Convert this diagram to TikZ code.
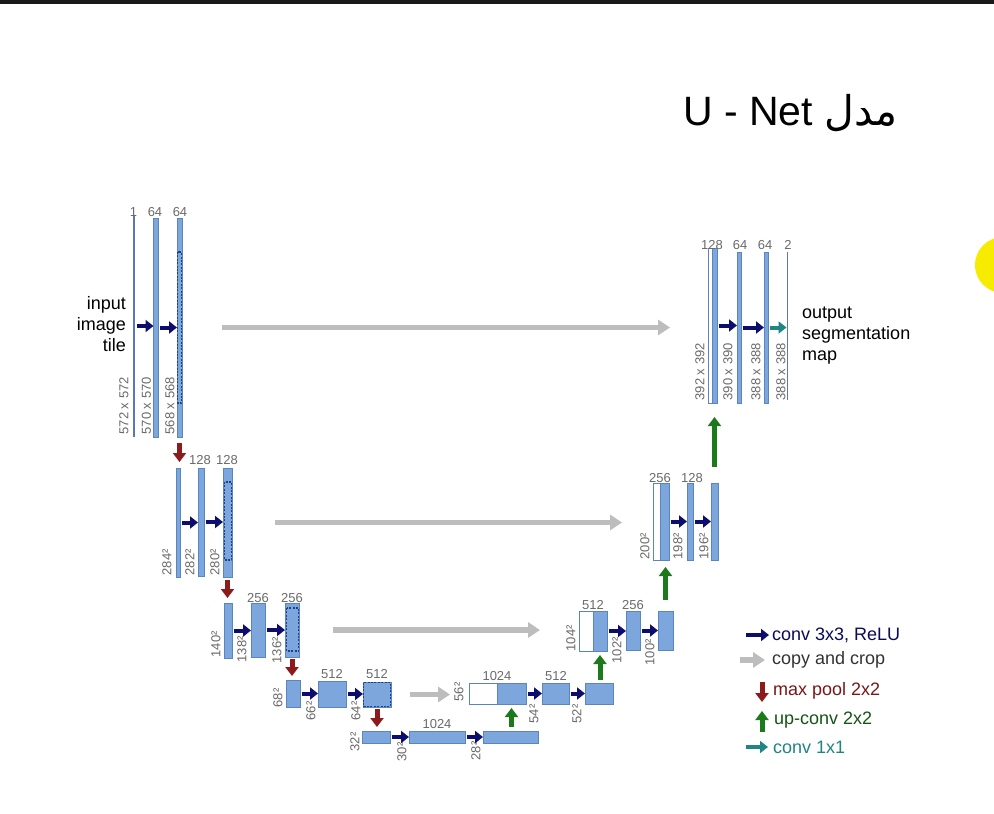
\documentclass[tikz,border=0pt]{standalone}
\usepackage{fontspec}
\setmainfont{Liberation Sans}
\newfontfamily\arabicfont[Script=Arabic]{DejaVu Sans}
\TeXXeTstate=1
\usetikzlibrary{arrows.meta}
\definecolor{barfill}{HTML}{7DA6DC}
\definecolor{barline}{HTML}{5A86C0}
\definecolor{thinblue}{HTML}{5A78B8}
\definecolor{dashnavy}{HTML}{1F3F8F}
\definecolor{convc}{HTML}{0D0D6E}
\definecolor{copyc}{HTML}{BDBDBD}
\definecolor{poolc}{HTML}{8E1B1B}
\definecolor{upc}{HTML}{1C7A1C}
\definecolor{tealc}{HTML}{1F8585}
\definecolor{labgray}{HTML}{6A6A6A}
\definecolor{sunny}{HTML}{F7EC00}
\tikzset{
  bar/.style={draw=barline, fill=barfill, line width=0.8pt, inner sep=0pt, outer sep=0pt, anchor=north west},
  wbox/.style={draw=barline, fill=white, line width=0.8pt, inner sep=0pt, outer sep=0pt, anchor=north west},
  thinbar/.style={fill=thinblue, inner sep=0pt, outer sep=0pt, anchor=north west},
  dashrect/.style={draw=dashnavy, line width=1.2pt, dash pattern=on 2pt off 1.4pt},
  convarrow/.style={draw=convc, line width=4pt, -{Triangle[length=8pt,width=12pt]}},
  tealarrow/.style={draw=tealc, line width=4pt, -{Triangle[length=8pt,width=12pt]}},
  copyarrow/.style={draw=copyc, line width=5.5pt, -{Triangle[length=12pt,width=15pt]}},
  poolarrow/.style={draw=poolc, line width=5pt, -{Triangle[length=9pt,width=13pt]}},
  uparrow/.style={draw=upc, line width=5pt, -{Triangle[length=9pt,width=13pt]}},
  toplab/.style={font=\fontsize{13}{13}\selectfont, text=labgray, inner sep=0pt, anchor=base},
  sidelab/.style={font=\fontsize{13}{13}\selectfont, text=labgray, inner sep=0.5pt, rotate=90, anchor=west},
  bigtext/.style={font=\fontsize{18}{21}\selectfont, inner sep=0pt},
  legtext/.style={font=\fontsize{18}{18}\selectfont, inner sep=0pt, anchor=west}
}
\begin{document}
\begin{tikzpicture}[x=1pt,y=-1pt]
\useasboundingbox (0,0) rectangle (994,814);
\clip (0,0) rectangle (994,814);
\fill[white] (0,0) rectangle (994,814);
\fill[black!90] (0,0) rectangle (994,4);
\fill[sunny] (1003,265) circle (28);

% title
\node[anchor=west, font=\fontsize{41}{41}\selectfont, inner sep=0pt] (title) at (683,113) {U - Net \arabicfont\beginR مدل\endR};

% ---------- level 1 left
\node[thinbar, minimum width=2pt, minimum height=222pt] (a1) at (133,215) {};
\node[bar, minimum width=5pt, minimum height=219pt] (a2) at (153.5,218) {};
\node[bar, minimum width=5pt, minimum height=219pt] (a3) at (177,218) {};
\draw[dashrect] (177.6,252) rectangle (181.4,403);
\node[toplab] at (133.5,216) {1};
\node[toplab] at (155,216) {64};
\node[toplab] at (180,216) {64};
\node[sidelab] at (124,435) {572 x 572};
\node[sidelab] at (146.5,435) {570 x 570};
\node[sidelab] at (170,435) {568 x 568};
\node[bigtext, anchor=east, align=right] (inp) at (126,324) {input\\image\\tile};

% ---------- level 2 left
\node[bar, minimum width=4.5pt, minimum height=109pt] (b1) at (176,468) {};
\node[bar, minimum width=6pt, minimum height=108pt] (b2) at (198,468) {};
\node[bar, minimum width=9pt, minimum height=109pt] (b3) at (223,468) {};
\draw[dashrect] (224.5,482) rectangle (231.5,560);
\node[toplab] at (200,464) {128};
\node[toplab] at (227,464) {128};
\node[sidelab] at (167,576) {284²};
\node[sidelab] at (190,576) {282²};
\node[sidelab] at (215,576) {280²};

% ---------- level 3 left
\node[bar, minimum width=8pt, minimum height=55pt] (c1) at (224,603) {};
\node[bar, minimum width=14pt, minimum height=54pt] (c2) at (251,603) {};
\node[bar, minimum width=14pt, minimum height=54pt] (c3) at (285,603) {};
\draw[dashrect] (286.5,608) rectangle (298.5,651);
\node[toplab] at (258,602) {256};
\node[toplab] at (292,602) {256};
\node[sidelab] at (216,658) {140²};
\node[sidelab] at (242,663) {138²};
\node[sidelab] at (277,664) {136²};

% ---------- level 4 left
\node[bar, minimum width=14pt, minimum height=27pt] (d1) at (286,680) {};
\node[bar, minimum width=28pt, minimum height=26pt] (d2) at (318,681) {};
\node[bar, minimum width=28pt, minimum height=25pt] (d3) at (363,682) {};
\draw[dashrect] (363.6,682.6) rectangle (390.4,706.4);
\node[toplab] at (332,678) {512};
\node[toplab] at (377,678) {512};
\node[sidelab] at (278,708) {68²};
\node[sidelab] at (311,721) {66²};
\node[sidelab] at (356,721) {64²};

% ---------- level 5
\node[bar, minimum width=28pt, minimum height=12pt] (e1) at (362,731) {};
\node[bar, minimum width=56pt, minimum height=12pt] (e2) at (409,731) {};
\node[bar, minimum width=55pt, minimum height=12pt] (e3) at (483,731) {};
\node[toplab] at (437,728) {1024};
\node[sidelab] at (355,752) {32²};
\node[sidelab] at (402,762) {30²};
\node[sidelab] at (476,761) {28²};

% ---------- level 4 right
\node[wbox, minimum width=28pt, minimum height=21pt] (f0) at (469,683) {};
\node[bar, minimum width=29pt, minimum height=21pt] (f1) at (497,683) {};
\node[bar, minimum width=27pt, minimum height=21pt] (f2) at (542,683) {};
\node[bar, minimum width=28pt, minimum height=21pt] (f3) at (585,683) {};
\node[toplab] at (497,680) {1024};
\node[toplab] at (556,680) {512};
\node[sidelab] at (459,702) {56²};
\node[sidelab] at (534,724) {54²};
\node[sidelab] at (577,724) {52²};

% ---------- level 3 right
\node[wbox, minimum width=14pt, minimum height=40pt] (g0) at (579,611) {};
\node[bar, minimum width=14pt, minimum height=40pt] (g1) at (593,611) {};
\node[bar, minimum width=14pt, minimum height=39pt] (g2) at (626,611) {};
\node[bar, minimum width=15pt, minimum height=39pt] (g3) at (658,611) {};
\node[toplab] at (593,609) {512};
\node[toplab] at (633,609) {256};
\node[sidelab] at (571,652) {104²};
\node[sidelab] at (617,664) {102²};
\node[sidelab] at (650,666) {100²};

% ---------- level 2 right
\node[wbox, minimum width=7pt, minimum height=77pt] (h0) at (653,483) {};
\node[bar, minimum width=9pt, minimum height=77pt] (h1) at (660,483) {};
\node[bar, minimum width=6pt, minimum height=77pt] (h2) at (687,483) {};
\node[bar, minimum width=7pt, minimum height=77pt] (h3) at (711,483) {};
\node[toplab] at (660,482) {256};
\node[toplab] at (692,482) {128};
\node[sidelab] at (645,560) {200²};
\node[sidelab] at (678,560) {198²};
\node[sidelab] at (704,560) {196²};

% ---------- level 1 right
\node[wbox, minimum width=4pt, minimum height=155pt] (i0) at (708,248) {};
\node[bar, minimum width=5pt, minimum height=155pt] (i1) at (712,248) {};
\node[bar, minimum width=4pt, minimum height=151pt] (i2) at (737,252) {};
\node[bar, minimum width=4pt, minimum height=151pt] (i3) at (764,252) {};
\node[thinbar, minimum width=1.6pt, minimum height=148pt] (i4) at (786.5,252) {};
\node[toplab] at (712,249) {128};
\node[toplab] at (740,249) {64};
\node[toplab] at (765,249) {64};
\node[toplab] at (788,249) {2};
\node[sidelab] at (700,401) {392 x 392};
\node[sidelab] at (728,401) {390 x 390};
\node[sidelab] at (756,401) {388 x 388};
\node[sidelab] at (781,401) {388 x 388};
\node[bigtext, anchor=west, align=left] (outp) at (802,336) {output\\segmentation\\map};

% ---------- conv arrows
\foreach \p/\q in {a1/a2,a2/a3,b1/b2,b2/b3,c1/c2,c2/c3,d1/d2,d2/d3,e1/e2,e2/e3,f1/f2,f2/f3,g1/g2,g2/g3,h1/h2,h2/h3,i1/i2,i2/i3}
  \draw[convarrow, shorten <=1.5pt] (\p.east) -- (\p.east -| \q.west);
\draw[tealarrow, shorten <=1.5pt] (i3.east) -- (i3.east -| i4.west);

% ---------- copy and crop
\draw[copyarrow, shorten <=40pt, shorten >=38pt] (a3.east) -- (a3.east -| i0.west);
\draw[copyarrow, shorten <=43pt, shorten >=31pt] (b3.east) -- (b3.east -| h0.west);
\draw[copyarrow, shorten <=34pt, shorten >=39pt] (c3.east) -- (c3.east -| g0.west);
\draw[copyarrow, shorten <=19pt, shorten >=19pt] (d3.east) -- (d3.east -| f0.west);

% ---------- max pool
\draw[poolarrow, shorten <=6pt, shorten >=6pt] (a3.south) -- (a3.south |- b1.north);
\draw[poolarrow, shorten <=3pt, shorten >=5pt] (b3.south) -- (b3.south |- c1.north);
\draw[poolarrow, shorten <=2pt, shorten >=4pt] (c3.south) -- (c3.south |- d1.north);
\draw[poolarrow, shorten <=2pt, shorten >=4pt] (d3.south) -- (d3.south |- e1.north);

% ---------- up-conv
\draw[uparrow, shorten <=4pt, shorten >=4pt] (f1.south |- e3.north) -- (f1.south);
\draw[uparrow, shorten <=3pt, shorten >=4pt] (g1.south |- f3.north) -- (g1.south);
\draw[uparrow, shorten <=11pt, shorten >=7pt] ([xshift=1pt]h1.south |- g3.north) -- ([xshift=1pt]h1.south);
\draw[uparrow, shorten <=16pt, shorten >=14pt] (i1.south |- h3.north) -- (i1.south);

% ---------- legend
\node[legtext, text=convc!80!black] (l1) at (772,635) {conv 3x3, ReLU};
\node[legtext, text=black!80] (l2) at (772,660) {copy and crop};
\node[legtext, text=poolc!85!black] (l3) at (773,691) {max pool 2x2};
\node[legtext, text=upc!70!black] (l4) at (774,720) {up-conv 2x2};
\node[legtext, text=tealc] (l5) at (773,747) {conv 1x1};
\draw[convarrow] ([xshift=-26pt]l1.west) -- ([xshift=-3pt]l1.west);
\draw[copyarrow] ([xshift=-32pt]l2.west) -- ([xshift=-7pt]l2.west);
\draw[poolarrow] ([xshift=-11pt,yshift=9pt]l3.west) -- ([xshift=-11pt,yshift=-11pt]l3.west);
\draw[uparrow] ([xshift=-12pt,yshift=-12pt]l4.west) -- ([xshift=-12pt,yshift=9pt]l4.west);
\draw[tealarrow] ([xshift=-27pt]l5.west) -- ([xshift=-5pt]l5.west);
\end{tikzpicture}
\end{document}
